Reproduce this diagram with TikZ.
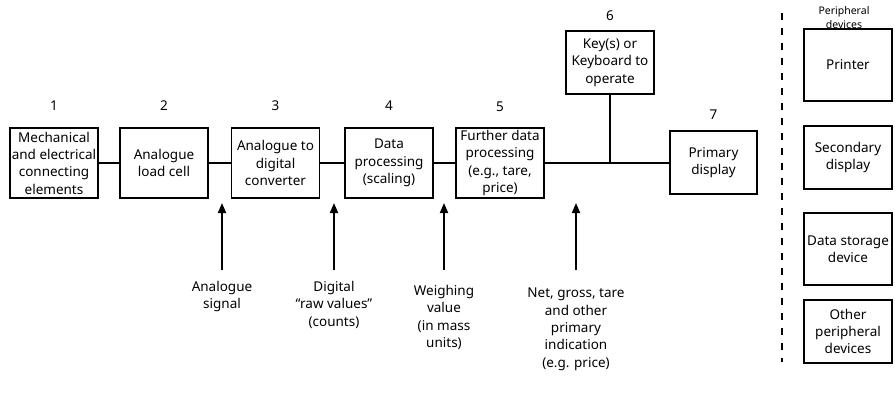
\documentclass[tikz,border=0pt]{standalone}
\usepackage{fontspec}
\setmainfont{Noto Sans}
\usetikzlibrary{positioning, arrows.meta}

\begin{document}
\begin{tikzpicture}[x=1pt,y=-1pt,
        boxnode/.style={rectangle, draw, line width=1.3pt, minimum width=88pt, minimum height=70pt, align=center, inner sep=1pt},
        smallbox/.style={boxnode, minimum height=63pt},
        numnode/.style={inner sep=0pt},
        signode/.style={align=center, anchor=north, inner sep=0pt},
        link/.style={line width=1.8pt},
        sig/.style={line width=1.8pt, -{Triangle[length=10pt,width=8pt]}},
        auto]
        \tikzstyle{every node}=[font=\fontsize{13.5}{17.3}\selectfont]
        \useasboundingbox (0,0) rectangle (895,392);
            % weighing chain
            \node[boxnode] (mech) at (54,163) {Mechanical\\and electrical\\connecting\\elements};
            \node[boxnode] (cell) at (164,163) {Analogue\\load cell};
            \node[boxnode] (adc) at (275.5,163) {Analogue to\\digital\\converter};
            \node[boxnode] (scale) at (389,163) {Data\\processing\\(scaling)};
            \node[boxnode] (further) at (500,163) {Further data\\processing\\(e.g., tare,\\price)};
            \node[smallbox] (keys) at (610,62.5) {Key(s) or\\Keyboard to\\operate};
            \node[smallbox, minimum width=87pt] (prim) at (713.5,162.5) {Primary\\display};

            \node[numnode, above=17pt of mech] (n1) {1};
            \node[numnode, above=17pt of cell] (n2) {2};
            \node[numnode, above=17pt of adc] (n3) {3};
            \node[numnode, above=17pt of scale] (n4) {4};
            \node[numnode, above=16pt of further] (n5) {5};
            \node[numnode, above=10pt of keys] (n6) {6};
            \node[numnode, above=11pt of prim] (n7) {7};

            \coordinate (junc) at (keys.south |- further.east);
            \draw[link] (mech) -- (cell);
            \draw[link] (cell) -- (adc);
            \draw[link] (adc) -- (scale);
            \draw[link] (scale) -- (further);
            \draw[link] (further) -- (further.east -| prim.west);
            \draw[link] (keys) -- (junc);

            % signals between the stages
            \coordinate (tip1) at (222,203);
            \coordinate (foot1) at (222,270);
            \coordinate (tip2) at (334,203);
            \coordinate (foot2) at (334,270);
            \coordinate (tip3) at (444,203);
            \coordinate (foot3) at (444,270);
            \coordinate (tip4) at (576,203);
            \coordinate (foot4) at (576,270);
            \draw[sig] (foot1) -- (tip1);
            \draw[sig] (foot2) -- (tip2);
            \draw[sig] (foot3) -- (tip3);
            \draw[sig] (foot4) -- (tip4);

            \node[signode] (analog) at (222,281) {Analogue\\signal};
            \node[signode] (raw) at (334,281) {Digital\\“raw values”\\(counts)};
            \node[signode] (mass) at (444,285) {Weighing\\value\\(in mass\\units)};
            \node[signode] (net) at (576,288) {Net, gross, tare\\and other\\primary\\indication\\(e.g. price)};

            % peripheral devices
            \draw[line width=2pt, dash pattern=on 7pt off 8pt] (782,13) -- (782,362);
            \node[align=center, inner sep=0pt, font=\fontsize{10.5}{14}\selectfont] (perhead) at (844,18) {Peripheral\\devices};
            \node[boxnode, minimum height=72pt] (printer) at (848,65) {Printer};
            \node[smallbox] (second) at (848,157.5) {Secondary\\display};
            \node[boxnode, minimum height=72pt] (store) at (848,249) {Data storage\\device};
            \node[smallbox] (other) at (848,331.5) {Other\\peripheral\\devices};
\end{tikzpicture}
\end{document}
